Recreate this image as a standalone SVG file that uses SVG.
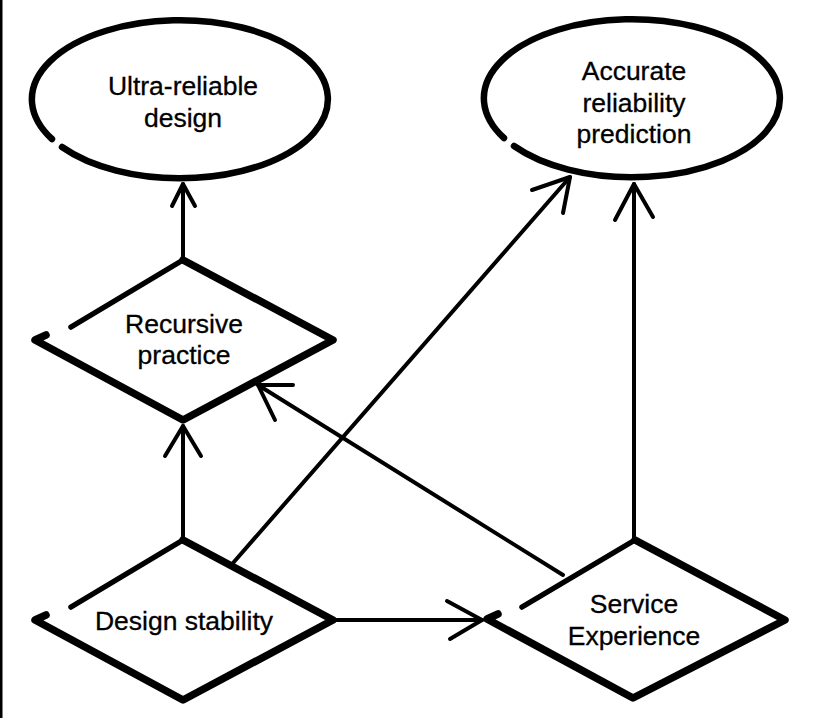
<svg xmlns="http://www.w3.org/2000/svg" width="817" height="718" viewBox="0 0 817 718">
<style>
.shape{fill:none;stroke:#000;stroke-width:5.5;stroke-linecap:round;stroke-linejoin:round}
.oval{fill:none;stroke:#000;stroke-width:6.5;stroke-linecap:round}
.thick{fill:none;stroke:#000;stroke-width:7.5;stroke-linecap:round;stroke-linejoin:round}
.edge{fill:none;stroke:#000;stroke-width:4;stroke-linecap:round;stroke-linejoin:round}
text{font-family:"Liberation Sans",Arial,sans-serif;font-size:26.5px;fill:#000;stroke:#000;stroke-width:0.3;text-anchor:middle}
</style>
<rect x="0" y="0" width="817" height="718" fill="#fff"/>
<rect x="0" y="0" width="2.5" height="718" fill="#000"/>

<g id="ultra-reliable-design">
<path class="oval" d="M52,139 A148,79 0 1,1 62,147"/>
<text x="183" y="95">Ultra-reliable</text>
<text x="183" y="127">design</text>
</g>

<g id="accurate-reliability-prediction">
<path class="oval" d="M504,138 A148,79 0 1,1 514,146"/>
<text x="634" y="80">Accurate</text>
<text x="634" y="112">reliability</text>
<text x="634" y="143">prediction</text>
</g>

<g id="recursive-practice">
<path class="shape" d="M71,327 L183,260"/>
<path class="thick" d="M183,260 L333,340 L183,420 L35,340 L46,335"/>
<text x="184" y="333">Recursive</text>
<text x="184" y="364">practice</text>
</g>

<g id="design-stability">
<path class="shape" d="M71,607 L183,540"/>
<path class="thick" d="M183,540 L333,620 L183,700 L35,620 L46,615"/>
<text x="184" y="630">Design stability</text>
</g>

<g id="service-experience">
<path class="shape" d="M522,607 L635,540"/>
<path class="thick" d="M635,540 L785,620 L633,698 L487,619 L498,614"/>
<text x="634" y="613">Service</text>
<text x="634" y="645">Experience</text>
</g>

<g id="connectors">
<path class="edge" d="M183,258 L183,184"/>
<path class="edge" d="M172,206 L183,184 L195,206"/>
<path class="edge" d="M183,538 L183,426"/>
<path class="edge" d="M165,456 L183,426 L201,456"/>
<path class="edge" d="M233,563 L570,177"/>
<path class="edge" d="M532,190 L570,177 L563,213"/>
<path class="edge" d="M563,575 L258,385"/>
<path class="edge" d="M293,385 L258,385 L275,420"/>
<path class="edge" d="M333,620 L482,620"/>
<path class="edge" d="M447,601 L482,620 L450,639"/>
<path class="edge" d="M634,538 L634,184"/>
<path class="edge" d="M615,220 L634,184 L653,217"/>
</g>
</svg>
